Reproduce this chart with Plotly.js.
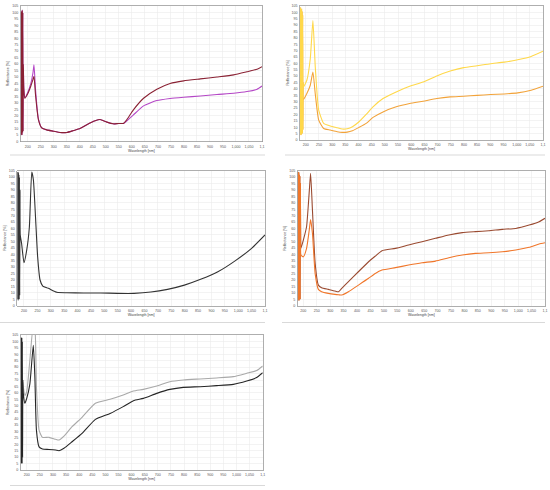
<!DOCTYPE html>
<html>
<head>
<meta charset="utf-8">
<script src="https://cdn.plot.ly/plotly-3.0.1.min.js"></script>
<style>html,body{margin:0;padding:0;background:#fff;}#chart{width:550px;height:490px;}</style>
</head>
<body>
<div id="chart"></div>
<script>
// ---- tick labels ----
const xTickVals = [200,250,300,350,400,450,500,550,600,650,700,750,800,850,900,950,1000,1050,1100];
const xTickLabels = ["200","250","300","350","400","450","500","550","600","650","700","750","800","850","900","950","1,000","1,050","1,1"];
const yTickVals = [0,5,10,15,20,25,30,35,40,45,50,55,60,65,70,75,80,85,90,95,100,105];
const xTitle = "Wavelength [nm]";
const yTitle = "Reflectance [%]";

// ---- panel 1 (maroon / purple) ----
const p1NoiseWl = [173,174,175,176,177,178,179,180,181,182,183];
const p1NoiseVal = [100,5,101,6,99,5,102,7,100,8,60];
const p1Wl = [185,189,200,212,220,224,230,241,254,273,299,324,350,376,401,427,459,478,504,529,549,568,581,606,645,696,747,799,863,927,991,1042,1081,1100];
const p1Dark = [40,33.5,37,43,48,50.5,36,17,10.5,9,8,7,7,8.5,10,13,16,17,15,13.7,14,14,17,24.5,33.5,40.5,45,47,48.5,50,51.6,54,56,58];
const p1Purple = [42,34,38,45,53,59.4,40,17.5,10.5,9,8,7,7,8.5,10,13,16,17,15,13.7,14,14,16,20.6,27.6,31.7,33.3,34.3,35.3,36.4,37.4,38.7,40.5,43];

// ---- panel 2 (yellow / orange) ----
const p2NoiseWl = [178,179,180,181,182,183,184,185,186,187,188,189,190];
const p2NoiseVal = [103,4,104,5,102,4,103,6,101,5,98,8,45];
const p2Wl = [191,204,217,227,236,249,268,293,319,338,357,377,402,429,455,493,543,594,645,697,748,799,850,901,953,1004,1055,1100];
const p2Yellow = [41.6,46.8,63.7,93.6,57,23.4,13,11,9.6,8.6,8.8,10.4,14.3,20,26,32.5,37.7,42.1,45.5,50.2,54,56.7,58.2,59.8,61,62.9,65.5,69.6];
const p2Orange = [31.7,36.4,42.9,53.3,36,15.6,9,7.8,6.5,6,6.2,7.3,9.9,13,17.7,22,26,28.6,30.4,32.5,33.8,34.3,35,35.6,36.1,36.9,39,42.1];

// ---- panel 3 (black) ----
const p3NoiseWl = [175,176,177,178,179,180,181,182,183,184,185,186];
const p3NoiseVal = [104,5,103,4,104,6,102,5,100,8,90,55];
const p3Wl = [191,200,210,220,229,235,245,251,260,270,291,323,360,423,486,548,611,674,736,799,862,924,987,1050,1100];
const p3Black = [48.5,33.4,43,61,104,98,61,38,20,15.3,13.5,10.4,10.1,9.9,9.9,9.6,9.6,10.6,12.7,16,20.7,26.4,34.7,44.6,55];

// ---- panel 4 (brown / orange) ----
const p4NoiseWl = [179,180,181,182,183,184,185,186,187,188,189,190];
const p4NoiseVal = [104,4,103,5,104,4,102,6,101,5,95,50];
const p4Wl = [191,200,212,222,227,234,244,256,268,293,318,331,343,368,405,443,468,493,543,592,642,692,742,792,841,891,941,991,1041,1078,1100];
const p4Brown = [44.6,51,61.4,88.7,103,74,33,16,14,12.7,11.4,10.9,13.5,18.7,26.4,34.2,38.6,42.8,44.6,47.2,49.8,52.4,55,56.8,57.6,58.3,59.4,60.1,62.7,65.3,68];
const p4Orange = [39.4,38,44.6,58.9,67,56,25,12.7,10.9,9.6,8.8,8.5,8.3,10.9,16,21.3,25.1,27.7,29.6,31.6,33.4,34.7,37.3,39.4,40.7,41.2,42,43.3,45.4,48,49];

// ---- panel 5 (grey / black) ----
const p5NoiseWl = [177,178,179,180,181,182,183,184,185];
const p5NoiseVal = [103,5,102,6,103,5,100,10,70];
const p5Wl = [187,193,200,212,225,231,237,247,260,285,310,323,342,373,411,462,518,568,607,645,696,746,797,861,924,988,1039,1077,1100];
const p5Grey = [64.8,58,61,85.6,112,110,64.8,31,25.4,25.4,23.9,23.3,26.4,33.7,41,51.9,55,58.3,61.4,62.7,65.3,68.7,70,70.8,71.6,72.6,75.2,77.3,80.9];
const p5Black = [59.6,51.9,55.7,67,97,72.6,31,18,16.3,16,15.5,15,16.9,22,28.5,39.4,44,49.3,53.9,55.7,59.6,62.7,64.3,64.8,65.6,66.6,69.2,72,75.7];

function join(a, b) { return a.concat(b); }
function tr(x, y, color, axis, width) {
  return {x: x, y: y, type: 'scatter', mode: 'lines', xaxis: 'x' + axis, yaxis: 'y' + axis,
          line: {color: color, width: width || 1.1, shape: 'spline', smoothing: 0.5}, hoverinfo: 'skip', showlegend: false};
}

const data = [
  tr(join(p1NoiseWl, p1Wl), join(p1NoiseVal, p1Purple), '#B447C6', ''),
  tr(join(p1NoiseWl, p1Wl), join(p1NoiseVal, p1Dark), '#8A2234', ''),
  tr(join(p2NoiseWl, p2Wl), join(p2NoiseVal, p2Orange), '#F2A33A', '2'),
  tr(join(p2NoiseWl, p2Wl), join(p2NoiseVal, p2Yellow), '#FFD84A', '2'),
  tr(join(p3NoiseWl, p3Wl), join(p3NoiseVal, p3Black), '#333333', '3'),
  tr(join(p4NoiseWl, p4Wl), join(p4NoiseVal, p4Brown), '#9A4A30', '4'),
  tr(join(p4NoiseWl, p4Wl), join(p4NoiseVal, p4Orange), '#F0762A', '4'),
  tr(join(p5NoiseWl, p5Wl), join(p5NoiseVal, p5Grey), '#A9A9A9', '5'),
  tr(join(p5NoiseWl, p5Wl), join(p5NoiseVal, p5Black), '#262626', '5')
];

const W = 550, H = 490;
function px(a, b) { return [a / W, b / W]; }
function py(top, bottom) { return [1 - bottom / H, 1 - top / H]; }

const tickFont = {family: 'Liberation Sans, Arial, sans-serif', size: 3.6, color: '#555'};
const titleFont = {family: 'Liberation Sans, Arial, sans-serif', size: 3.6, color: '#444'};

function xax(dom, range, anchor) {
  return {domain: dom, range: range, anchor: anchor, tickmode: 'array', tickvals: xTickVals, ticktext: xTickLabels,
          tickfont: tickFont, ticks: '', showgrid: true, gridcolor: '#ebebeb', gridwidth: 0.6,
          showline: true, linecolor: '#9a9a9a', linewidth: 0.8, mirror: true, zeroline: false,
          title: {text: xTitle, font: titleFont, standoff: 1}, automargin: false, fixedrange: true, ticklabelstandoff: 1};
}
function yax(dom, anchor) {
  return {domain: dom, range: [0, 105], anchor: anchor, tickmode: 'array', tickvals: yTickVals,
          tickfont: tickFont, ticks: '', showgrid: true, gridcolor: '#ebebeb', gridwidth: 0.6,
          showline: true, linecolor: '#9a9a9a', linewidth: 0.8, mirror: true, zeroline: false,
          title: {text: yTitle, font: titleFont, standoff: 2}, automargin: false, fixedrange: true, ticklabelstandoff: 1};
}

function sep(x0, x1, y) {
  return {type: 'line', xref: 'paper', yref: 'paper', x0: x0 / W, x1: x1 / W, y0: 1 - y / H, y1: 1 - y / H,
          line: {color: '#d9d9d9', width: 1}};
}

const layout = {
  width: W, height: H, margin: {l: 0, r: 0, t: 0, b: 0},
  paper_bgcolor: '#ffffff', plot_bgcolor: '#ffffff', showlegend: false,
  xaxis: xax(px(20.7, 262), [173, 1100], 'y'),
  yaxis: yax(py(6, 141.5), 'x'),
  xaxis2: xax(px(300, 543), [178, 1100], 'y2'),
  yaxis2: yax(py(6, 140), 'x2'),
  xaxis3: xax(px(17.3, 265), [175, 1100], 'y3'),
  yaxis3: yax(py(170.7, 305.7), 'x3'),
  xaxis4: xax(px(297.7, 545), [179, 1100], 'y4'),
  yaxis4: yax(py(170.7, 305.7), 'x4'),
  xaxis5: xax(px(20.7, 262.7), [177, 1100], 'y5'),
  yaxis5: yax(py(335, 470), 'x5'),
  shapes: [
    sep(10, 265, 155), sep(285, 545, 155),
    sep(0, 265, 322.5), sep(282, 545, 322.5),
    sep(10, 265, 485.5)
  ]
};

Plotly.newPlot('chart', data, layout, {displayModeBar: false, staticPlot: true});
</script>
</body>
</html>
